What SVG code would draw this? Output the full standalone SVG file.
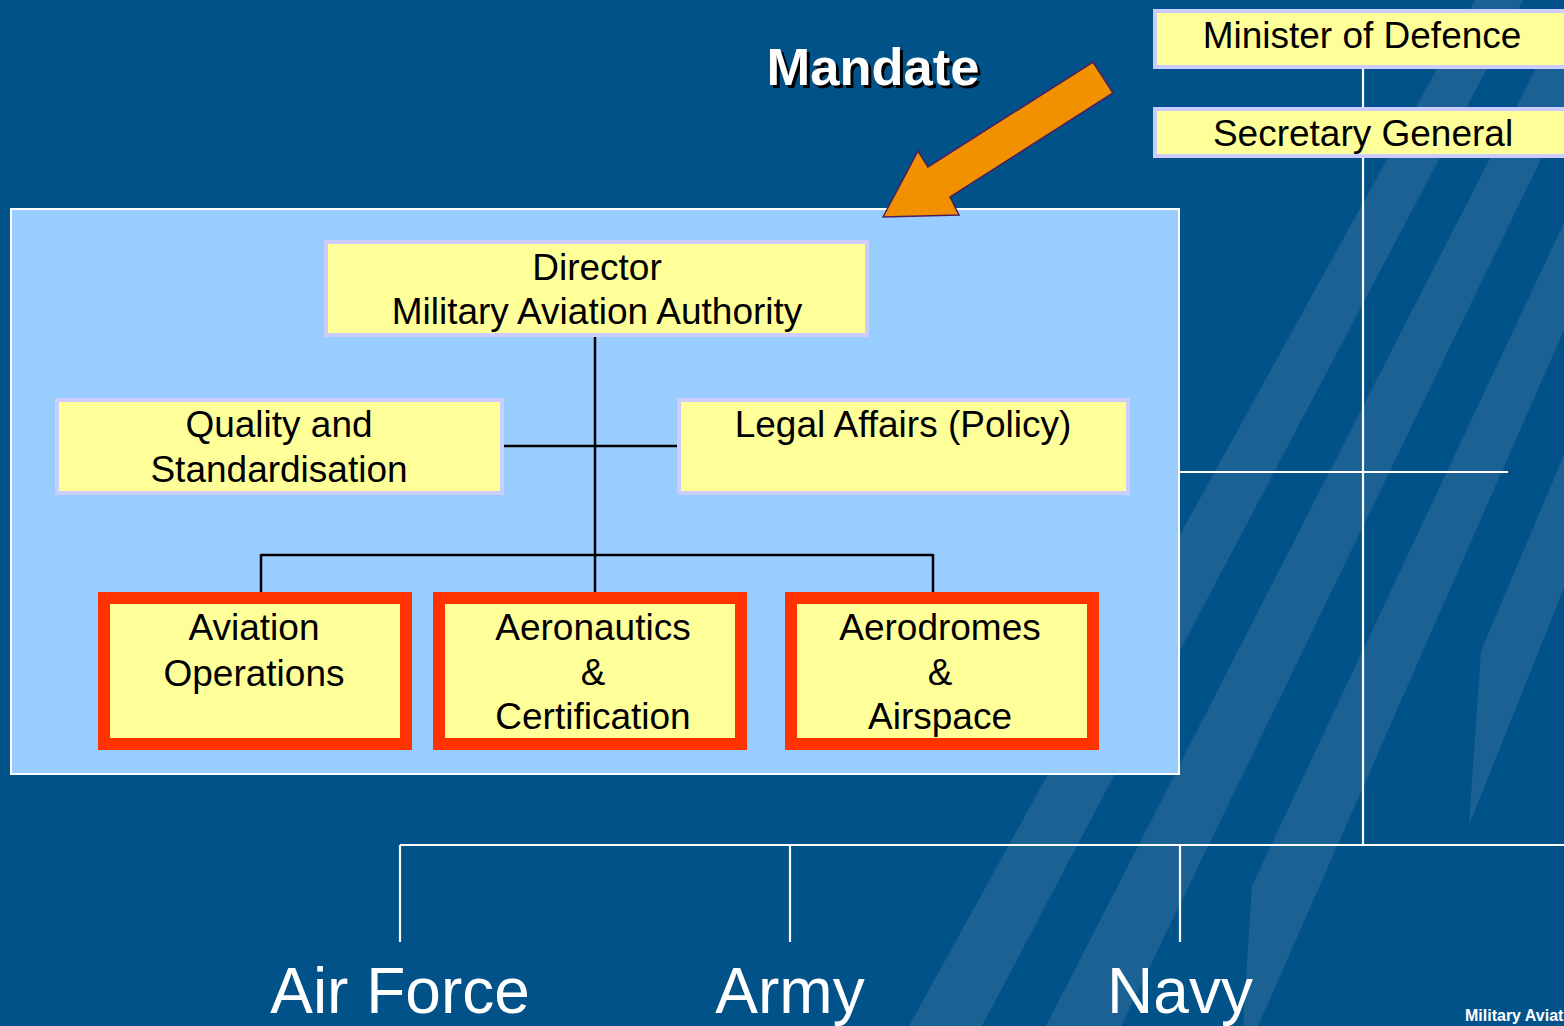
<svg xmlns="http://www.w3.org/2000/svg" width="1564" height="1026" viewBox="0 0 1564 1026">
<defs>
<style>
.bg{fill:#02528A}
.stripe{fill:#1C6194}
.wl{stroke:#FFFFFF;stroke-width:2.2;fill:none}
.bl{stroke:#000000;stroke-width:2.5;fill:none}
.ybox{fill:#FFFF99;stroke:#CCCCFF;stroke-width:4}
.rbox{fill:#FFFF99;stroke:#FF3300;stroke-width:12}
.t{font-family:"Liberation Sans",Arial,sans-serif;font-size:37px;fill:#000;text-anchor:middle}
.big{font-family:"Liberation Sans",Arial,sans-serif;font-size:64px;fill:#FFFFFF;text-anchor:middle}
</style>
</defs>
<rect class="bg" x="0" y="0" width="1564" height="1026"/>
<g id="stripes">
<polygon class="stripe" points="1475,0 1523,0 982,1026 909,1026"/>
<polygon class="stripe" points="1571,0 1618,0 1121,1026 1046,1026"/>
<polygon class="stripe" points="1564,223 1564,330 1258,1026 1243,1026 1252,886"/>
<polygon class="stripe" points="1564,455 1564,588 1469,825 1481,651"/>
</g>
<g id="connectors">
<line class="wl" x1="1363" y1="69" x2="1363" y2="107"/>
<line class="wl" x1="1363" y1="158" x2="1363" y2="845"/>
<line class="wl" x1="1180" y1="472" x2="1508" y2="472"/>
<line class="wl" x1="400" y1="845" x2="1564" y2="845"/>
<line class="wl" x1="400" y1="845" x2="400" y2="942"/>
<line class="wl" x1="790" y1="845" x2="790" y2="942"/>
<line class="wl" x1="1180" y1="845" x2="1180" y2="942"/>
</g>
<g id="maa-box">
<rect x="11" y="209" width="1168" height="565" fill="#99CCFF" stroke="#FFFFFF" stroke-width="2"/>
</g>
<g id="inner-connectors">
<line class="bl" x1="595" y1="337" x2="595" y2="592"/>
<line class="bl" x1="504" y1="446" x2="677" y2="446"/>
<line class="bl" x1="261" y1="555" x2="933" y2="555"/>
<line class="bl" x1="261" y1="554" x2="261" y2="592"/>
<line class="bl" x1="933" y1="554" x2="933" y2="592"/>
</g>
<g id="minister">
<rect class="ybox" x="1155" y="11" width="420" height="56"/>
<text class="t" x="1362" y="48">Minister of Defence</text>
</g>
<g id="secretary-general">
<rect class="ybox" x="1155" y="109" width="420" height="47"/>
<text class="t" x="1363" y="146">Secretary General</text>
</g>
<g id="director">
<rect class="ybox" x="326" y="242" width="541" height="93"/>
<text class="t" x="597" y="280">Director</text>
<text class="t" x="597" y="324">Military Aviation Authority</text>
</g>
<g id="quality">
<rect class="ybox" x="57" y="400" width="445" height="93"/>
<text class="t" x="279" y="437">Quality and</text>
<text class="t" x="279" y="482">Standardisation</text>
</g>
<g id="legal">
<rect class="ybox" x="679" y="400" width="449" height="93"/>
<text class="t" x="903" y="437">Legal Affairs (Policy)</text>
</g>
<g id="aviation-operations">
<rect class="rbox" x="104" y="598" width="302" height="146"/>
<text class="t" x="254" y="640">Aviation</text>
<text class="t" x="254" y="686">Operations</text>
</g>
<g id="aeronautics">
<rect class="rbox" x="439" y="598" width="302" height="146"/>
<text class="t" x="593" y="640">Aeronautics</text>
<text class="t" x="593" y="685">&amp;</text>
<text class="t" x="593" y="729">Certification</text>
</g>
<g id="aerodromes">
<rect class="rbox" x="791" y="598" width="302" height="146"/>
<text class="t" x="940" y="640">Aerodromes</text>
<text class="t" x="940" y="685">&amp;</text>
<text class="t" x="940" y="729">Airspace</text>
</g>
<g id="mandate">
<polygon points="883,217 918,151 928,167 1093,62 1113,93 950,197 959,215" fill="#F29100" stroke="#4B1E5A" stroke-width="1.5" stroke-linejoin="miter"/>
<text x="876" y="88" font-family="'Liberation Sans',Arial,sans-serif" font-size="52.5" font-weight="bold" fill="#000" text-anchor="middle">Mandate</text>
<text x="873" y="85" font-family="'Liberation Sans',Arial,sans-serif" font-size="52.5" font-weight="bold" fill="#FFFFFF" text-anchor="middle">Mandate</text>
</g>
<g id="air-force"><text class="big" x="400" y="1013">Air Force</text></g>
<g id="army"><text class="big" x="790" y="1013">Army</text></g>
<g id="navy"><text class="big" x="1180" y="1013">Navy</text></g>
<text x="1465" y="1021" font-family="'Liberation Sans',Arial,sans-serif" font-size="16" font-weight="bold" fill="#FFFFFF">Military Aviat</text>
</svg>
